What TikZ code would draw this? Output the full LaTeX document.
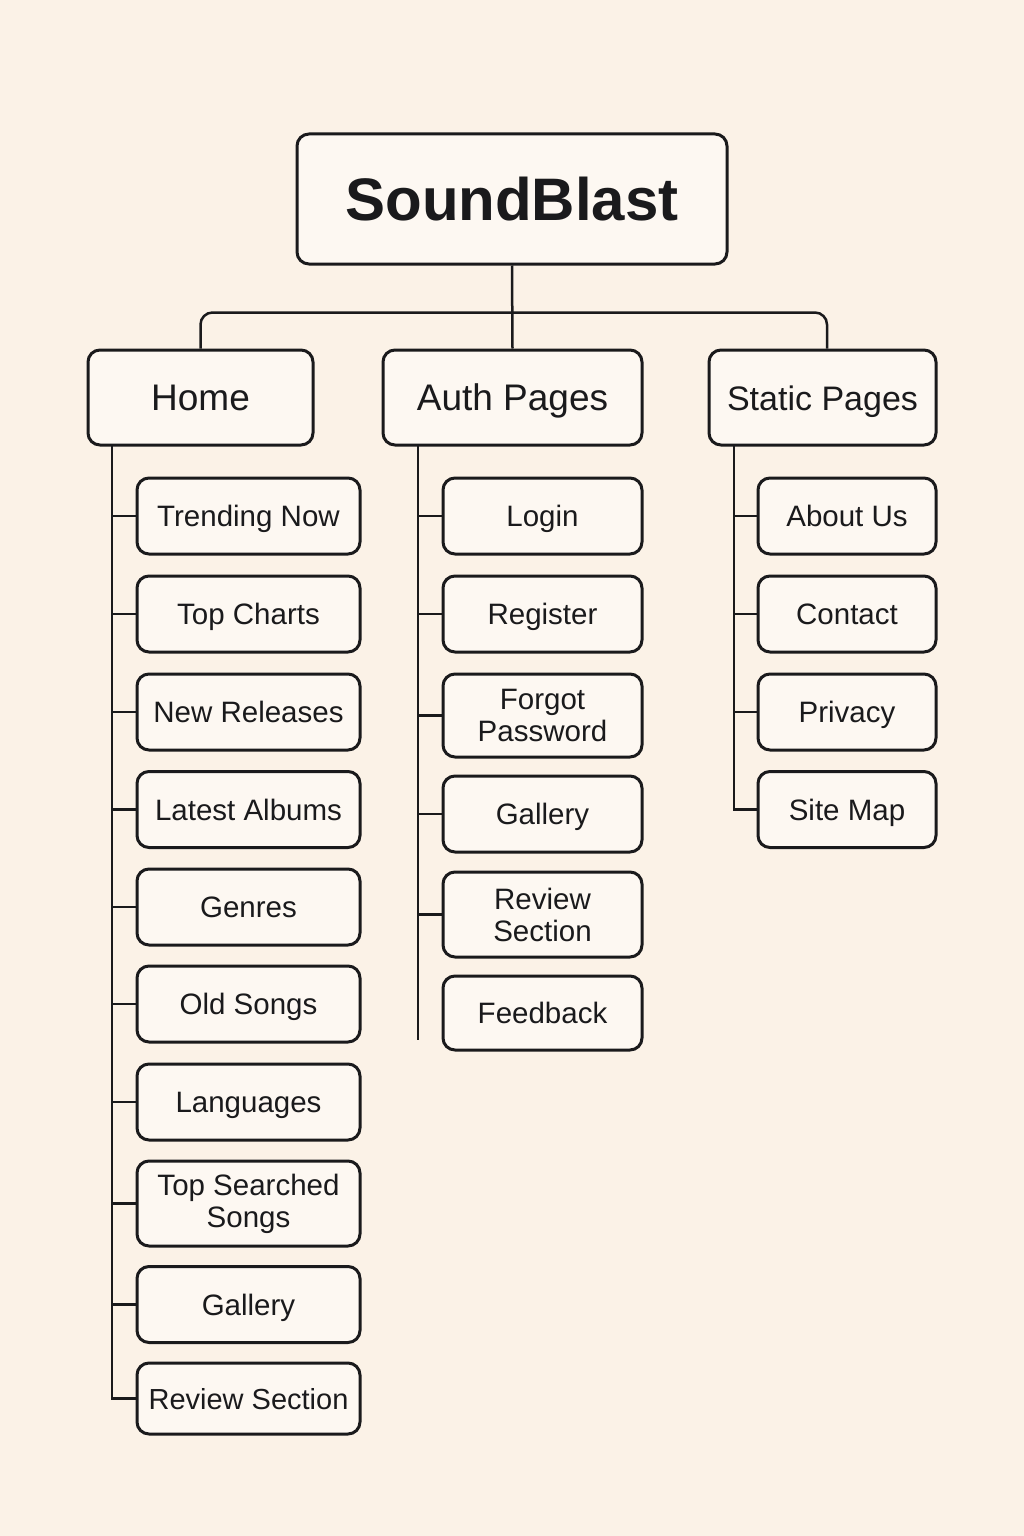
\documentclass[tikz,border=0pt]{standalone}
\usepackage{fontspec}
\setmainfont{Liberation Sans}
\usetikzlibrary{calc}
\definecolor{paper}{HTML}{FBF2E7}
\definecolor{boxfill}{HTML}{FDF8F2}
\definecolor{ink}{HTML}{1A1A1C}
\begin{document}
\begin{tikzpicture}[x=1pt, y=-1pt,
    every node/.style={rectangle, rounded corners=12pt, draw=ink, line width=3pt, fill=boxfill, text=ink, inner sep=0pt, align=center, text depth=0pt},
    root/.style={minimum width=430pt, minimum height=130pt, text height=43pt, font=\bfseries\fontsize{60}{60}\selectfont},
    cat/.style={minimum height=95pt, text height=26.5pt, font=\fontsize{37}{37}\selectfont},
    leaf/.style={minimum height=76pt, text height=21pt, font=\fontsize{29.5}{32}\selectfont},
    twoline/.style={text height=, text depth=},
    link/.style={draw=ink, line width=2.5pt}]

    % sfondo
    \fill[paper] (0,0) rectangle (1024,1536);
    \useasboundingbox (0,0) rectangle (1024,1536);

    % radice e categorie
    \node[root] (root) at (512,199) {SoundBlast};
    \node[cat, minimum width=225pt] (home) at (200.5,397.5) {Home};
    \node[cat, minimum width=259pt] (auth) at (512.5,397.5) {Auth Pages};
    \node[cat, minimum width=227pt, font=\fontsize{34}{34}\selectfont] (static) at (822.5,397.5) {Static Pages};

    % Home
    \node[leaf, minimum width=223pt] (trending) at (248.5,516) {Trending Now};
    \node[leaf, minimum width=223pt] (topcharts) at (248.5,614) {Top Charts};
    \node[leaf, minimum width=223pt] (newrel) at (248.5,712) {New Releases};
    \node[leaf, minimum width=223pt] (albums) at (248.5,809.5) {Latest Albums};
    \node[leaf, minimum width=223pt] (genres) at (248.5,907) {Genres};
    \node[leaf, minimum width=223pt] (oldsongs) at (248.5,1004) {Old Songs};
    \node[leaf, minimum width=223pt] (languages) at (248.5,1102) {Languages};
    \node[leaf, twoline, minimum width=223pt, minimum height=85pt] (topsearch) at (248.5,1203.5) {Top Searched\\Songs};
    \node[leaf, minimum width=223pt] (homegallery) at (248.5,1304.5) {Gallery};
    \node[leaf, minimum width=223pt, minimum height=71pt, font=\fontsize{29}{32}\selectfont] (homereview) at (248.5,1398.5) {Review Section};

    % Auth Pages
    \node[leaf, minimum width=199pt] (login) at (542.5,516) {Login};
    \node[leaf, minimum width=199pt] (register) at (542.5,614) {Register};
    \node[leaf, twoline, minimum width=199pt, minimum height=83pt] (forgot) at (542.5,715.5) {Forgot\\Password};
    \node[leaf, minimum width=199pt] (authgallery) at (542.5,814) {Gallery};
    \node[leaf, twoline, minimum width=199pt, minimum height=85pt] (authreview) at (542.5,914.5) {Review\\Section};
    \node[leaf, minimum width=199pt, minimum height=74pt] (feedback) at (542.5,1013) {Feedback};

    % Static Pages
    \node[leaf, minimum width=178pt] (about) at (847,516) {About Us};
    \node[leaf, minimum width=178pt] (contact) at (847,614) {Contact};
    \node[leaf, minimum width=178pt] (privacy) at (847,712) {Privacy};
    \node[leaf, minimum width=178pt] (sitemap) at (847,809.5) {Site Map};

    % tronchi
    \coordinate (hometrunk) at (112,445);
    \coordinate (authtrunk) at (418,445);
    \coordinate (authend) at (418,1040);
    \coordinate (statictrunk) at (734,445);

    % Archi
    \draw[link] (root.south) -- (auth.north);
    \draw[link, rounded corners=12pt] (home.north) -- ++(0,-36) -| ([xshift=4.5pt]static.north);
    \draw[link] (hometrunk) |- (homereview.west);
    \draw[link] (authtrunk) -- (authend);
    \draw[link] (statictrunk) |- (sitemap.west);
    \foreach \n in {trending,topcharts,newrel,albums,genres,oldsongs,languages,topsearch,homegallery}
        \draw[link] (\n.west) -- (\n.west -| hometrunk);
    \foreach \n in {login,register,forgot,authgallery,authreview}
        \draw[link] (\n.west) -- (\n.west -| authtrunk);
    \foreach \n in {about,contact,privacy}
        \draw[link] (\n.west) -- (\n.west -| statictrunk);
\end{tikzpicture}
\end{document}
